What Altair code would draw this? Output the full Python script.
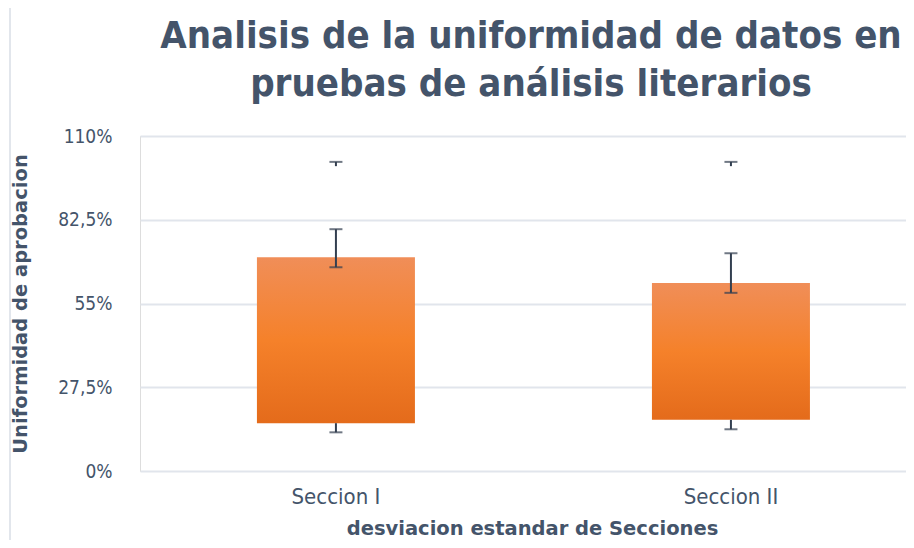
import altair as alt
import pandas as pd

categories = ["Seccion I", "Seccion II"]
bar_low = [0.157, 0.168]
bar_high = [0.702, 0.617]
err_low = [0.669, 0.585]
err_high = [0.794, 0.715]
max_cap = [1.015, 1.015]
max_stem = [1.001, 1.001]
min_cap = [0.127, 0.137]

df = pd.DataFrame({
    "cat": categories,
    "low": bar_low, "high": bar_high,
    "elow": err_low, "ehigh": err_high,
    "maxc": max_cap, "maxs": max_stem,
    "minc": min_cap,
})

TEXT = "#44546A"
ERR = "#333F50"
GRID = "#E1E5EC"
FONT = "DejaVu Sans Condensed"
TFONT = "DejaVu Sans"

xscale = alt.Scale(paddingInner=0.6, paddingOuter=0.2696, align=0.549)
xenc = alt.X("cat:N", scale=xscale, sort=categories,
             axis=alt.Axis(title="desviacion estandar de Secciones", labelAngle=0,
                           domain=False, ticks=False, labelPadding=15,
                           labelFontSize=22, labelColor=TEXT, labelFont=FONT,
                           titleFont=TFONT, titleFontSize=19.5, titleFontWeight="bold",
                           titleColor=TEXT, titlePadding=12, titleX=392))
yscale = alt.Scale(domain=[0, 1.10], nice=False)
yaxis = alt.Axis(values=[0, 0.275, 0.55, 0.825, 1.10],
                 labelExpr="replace(format(datum.value*100, '~g'), '.', ',') + '%'",
                 domain=False, ticks=False, grid=True, gridColor=GRID, gridWidth=2,
                 labelPadding=28, labelFontSize=19, labelColor=TEXT, labelFont=FONT,
                 title="Uniformidad de aprobacion", titleFont=TFONT, titleFontSize=19.5,
                 titleFontWeight="bold", titleColor=TEXT, titlePadding=27)

grad = alt.Gradient(
    gradient="linear", x1=0, y1=0, x2=0, y2=1,
    stops=[alt.GradientStop(color="#F08E58", offset=0),
           alt.GradientStop(color="#F5812A", offset=0.5),
           alt.GradientStop(color="#E46B1B", offset=1)])

base = alt.Chart(df)

bars = base.mark_bar(color=grad).encode(
    x=xenc,
    y=alt.Y("low:Q", scale=yscale, axis=yaxis),
    y2="high:Q",
)
err = base.mark_rule(color=ERR, strokeWidth=2).encode(x="cat:N", y="elow:Q", y2="ehigh:Q")
err_caps1 = base.mark_tick(color=ERR, size=13, thickness=2).encode(x="cat:N", y="elow:Q")
err_caps2 = base.mark_tick(color=ERR, size=13, thickness=2).encode(x="cat:N", y="ehigh:Q")
top_stem = base.mark_rule(color=ERR, strokeWidth=2).encode(x="cat:N", y="maxs:Q", y2="maxc:Q")
top_cap = base.mark_tick(color=ERR, size=13, thickness=2).encode(x="cat:N", y="maxc:Q")
bot_stem = base.mark_rule(color=ERR, strokeWidth=2).encode(x="cat:N", y="minc:Q", y2="low:Q")
bot_cap = base.mark_tick(color=ERR, size=13, thickness=2).encode(x="cat:N", y="minc:Q")

border = alt.Chart(pd.DataFrame({"a": [0]})).mark_rect(
    fill=None, stroke="#D9DEE6", strokeWidth=1.5, clip=False
).encode(x=alt.value(-130), x2=alt.value(800), y=alt.value(-129), y2=alt.value(420))

chart = alt.layer(
    border, bars, err, err_caps1, err_caps2, top_stem, top_cap, bot_stem, bot_cap
).properties(
    width=766, height=335,
    padding={"left": 132, "top": 128, "right": 0, "bottom": 69},
    autosize=alt.AutoSizeParams(type="none"),
    title=alt.TitleParams(
        text=["Analisis de la uniformidad de datos en", "pruebas de análisis literarios"],
        font=FONT, fontSize=38, fontWeight="bold", color=TEXT,
        anchor="middle", lineHeight=48, offset=-98, dx=8,
    ),
).configure_view(stroke=None).configure(background="white")

chart.save("out.html", embed_options={"renderer": "svg", "actions": False})
